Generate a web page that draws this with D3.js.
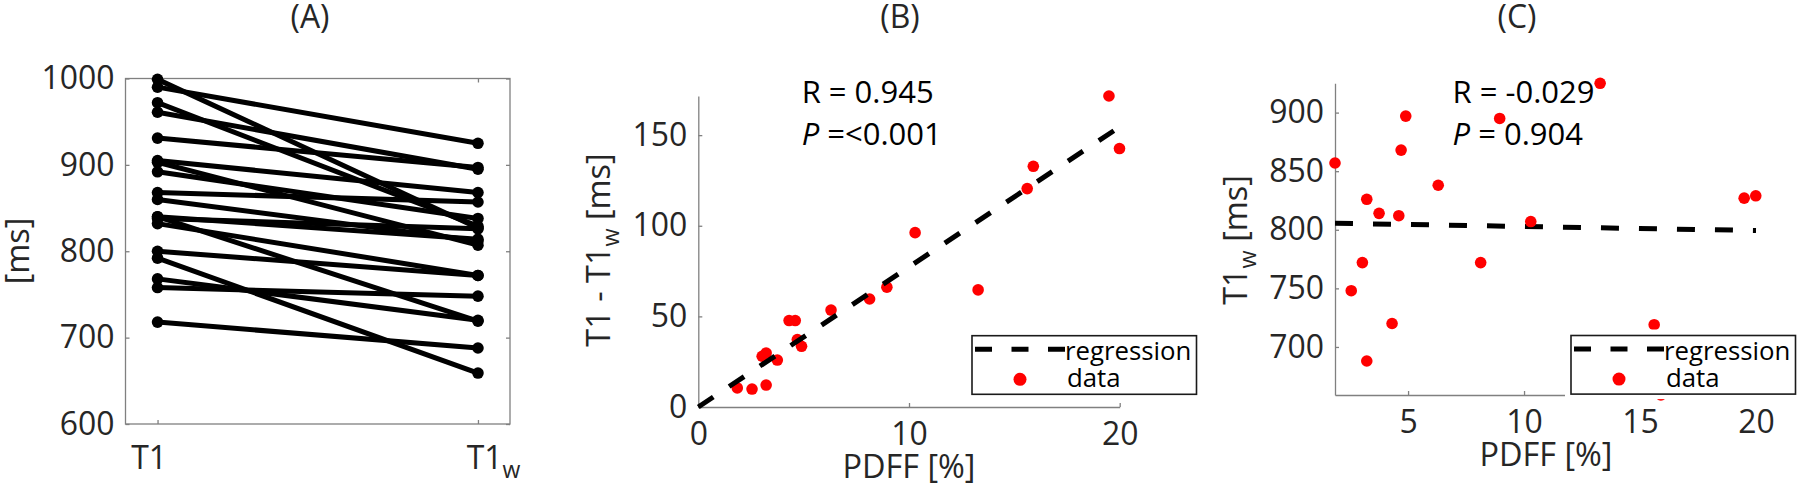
<!DOCTYPE html>
<html><head><meta charset="utf-8">
<script src="https://cdn.jsdelivr.net/npm/d3@7"></script>
<style>
body{margin:0;background:#fff}
svg{display:block}
</style>
</head><body>
<svg id="chart" width="1800" height="488"></svg>
<script>
// ---------------- data ----------------
const pdff = [1.85, 2.55, 3.03, 3.22, 3.22, 3.75, 4.31, 4.60, 4.70, 4.90, 6.30, 8.13, 8.95, 10.29, 13.28, 15.61, 15.90, 19.49, 19.99];
const t1   = [868, 758, 800, 838, 718, 840, 768, 860, 905, 931, 892, 832, 961, 903, 990, 840, 792, 999, 972];
const t1w  = [857, 748, 772, 826, 688, 814, 720, 812, 868, 897, 838, 772, 895, 807, 925, 719, 659, 827, 829];
const dT1  = [10.5, 9.9, 28.0, 12.1, 29.8, 25.9, 47.7, 47.7, 37.2, 33.5, 53.5, 59.6, 66.1, 96.2, 64.6, 120.5, 132.8, 171.6, 142.6];

const categoriesA = ["T1", "T1w"];
const yTicksA = [600, 700, 800, 900, 1000];
const xLimA = [0.9, 2.1];
const yLimA = [600, 1000];

const xTicksB = [0, 10, 20];
const yTicksB = [0, 50, 100, 150];
const xLimB = [0, 20];

const xTicksC = [5, 10, 15, 20];
const yTicksC = [700, 750, 800, 850, 900];
const xMaxC = 20;

const regressionB = [0, 7.73];        // [intercept, slope]
const regressionC = [806.2, -0.3416]; // [intercept, slope]
const statsB = ["0.945", "<0.001"];
const statsC = ["-0.029", "0.904"];
const titles = ["(A)", "(B)", "(C)"];
const legendLabels = ["regression", "data"];

// ---------------- drawing ----------------
const FONT = '"Open Sans", "Noto Sans", sans-serif';
const TXT = "#262626";
const AX = "#808080";
const svg = d3.select("#chart");
svg.append("rect").attr("width", 1800).attr("height", 488).attr("fill", "#fff");

// font size giving a sample string a given width
function fitSize(txt, target) {
  const t = svg.append("text").style("font-family", FONT).style("font-size", "100px").text(txt);
  const w = t.node().getComputedTextLength();
  t.remove();
  return 100 * target / w;
}
const TICK_FS = fitSize("1000", 73);
const LAB_FS = fitSize("PDFF [%]", 133);
const TITLE_FS = fitSize("(A)", 39);
const STAT_FS = fitSize("R = 0.945", 132);
const LEG_FS = fitSize("regression", 126.5);

function styleAxis(g, fs) {
  g.attr("font-family", null).attr("font-size", null);
  g.select(".domain").attr("stroke", AX).attr("stroke-width", 1.3);
  g.selectAll(".tick line").attr("stroke", AX).attr("stroke-width", 1.3);
  g.selectAll(".tick text").attr("fill", TXT).style("font-size", fs + "px").style("font-family", FONT);
}

function richText(sel, parts, fs) {
  let prevSub = false;
  parts.forEach(([t, sub]) => {
    const ts = sel.append("tspan").text(t);
    if (sub) { ts.attr("font-size", fs * 0.72).attr("dy", fs * 0.28); }
    else if (prevSub) ts.attr("dy", -fs * 0.28);
    prevSub = sub;
  });
}
const fmt = d3.format("d");

// ===== Panel A =====
const xA = d3.scaleLinear().domain(xLimA).range([125.5, 510]);
const yA = d3.scaleLinear().domain(yLimA).range([424, 78.5]);
const gA = svg.append("g");

gA.append("rect").attr("x", xA.range()[0]).attr("y", yA.range()[1])
  .attr("width", xA.range()[1] - xA.range()[0]).attr("height", yA.range()[0] - yA.range()[1])
  .attr("fill", "none").attr("stroke", AX).attr("stroke-width", 1.3);

const axLA = gA.append("g").attr("transform", `translate(${xA.range()[0]},0)`)
  .call(d3.axisLeft(yA).tickValues(yTicksA).tickFormat(fmt).tickSize(-4).tickSizeOuter(0).tickPadding(11));
styleAxis(axLA, TICK_FS);
const axRA = gA.append("g").attr("transform", `translate(${xA.range()[1]},0)`)
  .call(d3.axisRight(yA).tickValues(yTicksA).tickSize(-4).tickSizeOuter(0).tickFormat(""));
styleAxis(axRA, TICK_FS);
const axBA = gA.append("g").attr("transform", `translate(0,${yA.range()[0]})`)
  .call(d3.axisBottom(xA).tickValues([1, 2]).tickSize(-4).tickSizeOuter(0).tickPadding(22)
    .tickFormat((d, i) => categoriesA[i]));
styleAxis(axBA, TICK_FS);
axBA.selectAll(".tick text").each(function (d, i) {
  const s = d3.select(this);
  const lab = categoriesA[i];
  if (lab.length > 2) {
    s.text(null);
    richText(s, [[lab.slice(0, 2), false], [lab.slice(2), true]], TICK_FS);
    s.attr("dx", 15);
  } else s.attr("dx", -9);
});
const axTA = gA.append("g").attr("transform", `translate(0,${yA.range()[1]})`)
  .call(d3.axisTop(xA).tickValues([1, 2]).tickSize(-4).tickSizeOuter(0).tickFormat(""));
styleAxis(axTA, TICK_FS);
gA.selectAll(".domain").remove();

gA.append("g").selectAll("line").data(t1).join("line")
  .attr("x1", xA(1)).attr("x2", xA(2))
  .attr("y1", d => yA(d)).attr("y2", (d, i) => yA(t1w[i]))
  .attr("stroke", "#000").attr("stroke-width", 5).attr("stroke-linecap", "round");
gA.append("g").selectAll("circle").data(t1).join("circle")
  .attr("cx", xA(1)).attr("cy", d => yA(d)).attr("r", 5.8).attr("fill", "#000");
gA.append("g").selectAll("circle").data(t1w).join("circle")
  .attr("cx", xA(2)).attr("cy", d => yA(d)).attr("r", 5.8).attr("fill", "#000");

gA.append("text").attr("transform", "translate(18,251) rotate(-90)")
  .attr("text-anchor", "middle").attr("dy", "0.35em")
  .style("font-family", FONT).style("font-size", LAB_FS + "px").attr("fill", TXT).text("[ms]");
gA.append("text").attr("x", 310).attr("y", 28).attr("text-anchor", "middle")
  .style("font-family", FONT).style("font-size", TITLE_FS + "px").attr("fill", TXT).text(titles[0]);

// ===== helpers for scatter panels =====
function legend(g, L, T) {
  const W = 224.5, H = 58.6;
  g.append("rect").attr("x", L - 6).attr("y", T - 6).attr("width", W + 12).attr("height", H + 11).attr("fill", "#fff");
  g.append("rect").attr("x", L).attr("y", T).attr("width", W).attr("height", H)
    .attr("fill", "#fff").attr("stroke", "#1a1a1a").attr("stroke-width", 1.6);
  g.append("line").attr("x1", L + 3).attr("x2", L + 93).attr("y1", T + 13.6).attr("y2", T + 13.6)
    .attr("stroke", "#000").attr("stroke-width", 5).attr("stroke-dasharray", "17,19.5");
  g.append("text").attr("x", L + 93).attr("y", T + 24.4).style("font-family", FONT)
    .style("font-size", LEG_FS + "px").attr("fill", "#000").text(legendLabels[0]);
  g.append("circle").attr("cx", L + 48).attr("cy", T + 43.6).attr("r", 6.5).attr("fill", "#ff0000");
  g.append("text").attr("x", L + 95).attr("y", T + 51.6).style("font-family", FONT)
    .style("font-size", LEG_FS + "px").attr("fill", "#000").text(legendLabels[1]);
}
function stats(g, x, vals) {
  g.append("text").attr("x", x).attr("y", 103.3).style("font-family", FONT)
    .style("font-size", STAT_FS + "px").attr("fill", "#000").text("R = " + vals[0]);
  const t2 = g.append("text").attr("x", x).attr("y", 145).style("font-family", FONT)
    .style("font-size", STAT_FS + "px").attr("fill", "#000");
  t2.append("tspan").attr("font-style", "italic").text("P");
  t2.append("tspan").text(vals[1].startsWith("<") ? " =" + vals[1] : " = " + vals[1]);
}

// ===== Panel B =====
const xB = d3.scaleLinear().domain(xLimB).range([698.3, 1119.7]);
const yB = d3.scaleLinear().domain([0, d3.max(dT1)]).range([407, 96]);
const gB = svg.append("g");
const axLB = gB.append("g").attr("transform", `translate(${xB.range()[0]},0)`)
  .call(d3.axisLeft(yB).tickValues(yTicksB).tickFormat(fmt).tickSize(-4).tickSizeOuter(0).tickPadding(11));
styleAxis(axLB, TICK_FS);
const axBB = gB.append("g").attr("transform", `translate(0,${yB.range()[0]})`)
  .call(d3.axisBottom(xB).tickValues(xTicksB).tickFormat(fmt).tickSize(-4).tickSizeOuter(0).tickPadding(15));
styleAxis(axBB, TICK_FS);

gB.append("g").selectAll("circle").data(dT1).join("circle")
  .attr("cx", (d, i) => xB(pdff[i])).attr("cy", d => yB(d)).attr("r", 5.8).attr("fill", "#ff0000");
gB.append("line")
  .attr("x1", xB(xLimB[0])).attr("y1", yB(regressionB[0] + regressionB[1] * xLimB[0]))
  .attr("x2", xB(xLimB[1])).attr("y2", yB(regressionB[0] + regressionB[1] * xLimB[1]))
  .attr("stroke", "#000").attr("stroke-width", 5).attr("stroke-dasharray", "18,19");
stats(gB, 801.7, statsB);
legend(gB, 972, 335.7);

gB.append("text").attr("x", 909).attr("y", 478).attr("text-anchor", "middle")
  .style("font-family", FONT).style("font-size", LAB_FS + "px").attr("fill", TXT).text("PDFF [%]");
const ylB = gB.append("text").attr("transform", "translate(599,250) rotate(-90)")
  .attr("text-anchor", "middle").attr("dy", "0.35em")
  .style("font-family", FONT).style("font-size", LAB_FS + "px").attr("fill", TXT);
richText(ylB, [["T1 - T1", false], ["w", true], [" [ms]", false]], LAB_FS);
gB.append("text").attr("x", 900).attr("y", 28).attr("text-anchor", "middle")
  .style("font-family", FONT).style("font-size", TITLE_FS + "px").attr("fill", TXT).text(titles[1]);

// ===== Panel C =====
const xC = d3.scaleLinear().domain([d3.min(pdff), xMaxC]).range([1335, 1756]);
const yC = d3.scaleLinear().domain(d3.extent(t1w)).range([395, 83.3]);
const gC = svg.append("g");
const axLC = gC.append("g").attr("transform", `translate(${xC.range()[0]},0)`)
  .call(d3.axisLeft(yC).tickValues(yTicksC).tickFormat(fmt).tickSize(-4).tickSizeOuter(0).tickPadding(11));
styleAxis(axLC, TICK_FS);
const axBC = gC.append("g").attr("transform", `translate(0,${yC.range()[0]})`)
  .call(d3.axisBottom(xC).tickValues(xTicksC).tickFormat(fmt).tickSize(-4).tickSizeOuter(0).tickPadding(15));
styleAxis(axBC, TICK_FS);

const dC = xC.domain();
gC.append("line")
  .attr("x1", xC(dC[0])).attr("y1", yC(regressionC[0] + regressionC[1] * dC[0]))
  .attr("x2", xC(dC[1])).attr("y2", yC(regressionC[0] + regressionC[1] * dC[1]))
  .attr("stroke", "#000").attr("stroke-width", 5).attr("stroke-dasharray", "18,20");
gC.append("g").selectAll("circle").data(t1w).join("circle")
  .attr("cx", (d, i) => xC(pdff[i])).attr("cy", d => yC(d)).attr("r", 5.8).attr("fill", "#ff0000");
stats(gC, 1452.6, statsC);
legend(gC, 1571, 335.5);

gC.append("text").attr("x", 1546).attr("y", 466).attr("text-anchor", "middle")
  .style("font-family", FONT).style("font-size", LAB_FS + "px").attr("fill", TXT).text("PDFF [%]");
const ylC = gC.append("text").attr("transform", "translate(1236,240) rotate(-90)")
  .attr("text-anchor", "middle").attr("dy", "0.35em")
  .style("font-family", FONT).style("font-size", LAB_FS + "px").attr("fill", TXT);
richText(ylC, [["T1", false], ["w", true], [" [ms]", false]], LAB_FS);
gC.append("text").attr("x", 1517).attr("y", 28).attr("text-anchor", "middle")
  .style("font-family", FONT).style("font-size", TITLE_FS + "px").attr("fill", TXT).text(titles[2]);
</script>
</body></html>
